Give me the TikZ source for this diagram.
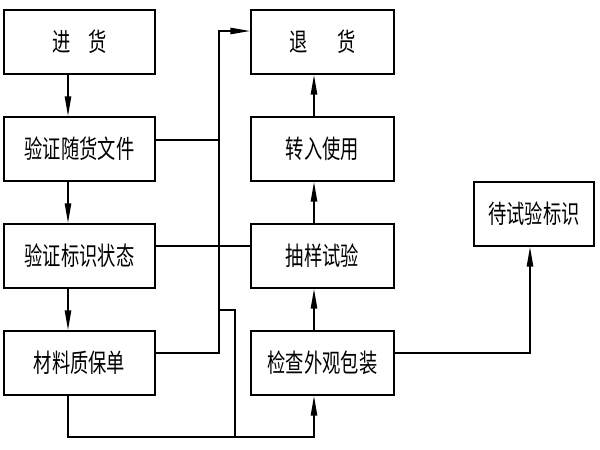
\documentclass[tikz,border=0pt]{standalone}
\usepackage{fontspec}
\usepackage{graphicx}
\setmainfont{Noto Sans CJK SC}
\usetikzlibrary{arrows.meta}
\newcommand{\tallt}[1]{\scalebox{1}[1.4]{#1}}

\begin{document}
\begin{tikzpicture}[>={Triangle[length=14pt,width=4.5pt]},line width=1.1pt,node distance=2.675cm,
  box node/.style={rectangle,draw,line width=1.3pt,minimum height=1.6cm,inner sep=0pt,font=\fontsize{13}{15}\selectfont},
  left node/.style={box node,minimum width=3.775cm},
  right node/.style={box node,minimum width=3.575cm}]
  \useasboundingbox (0,0) rectangle (15,-11.25);

  \node[left node] (1) at (1.9875,-1.05) {\tallt{进\hspace{1em}货}};
  \node[left node] (2) [below of=1] {\tallt{验证随货文件}};
  \node[left node] (3) [below of=2] {\tallt{验证标识状态}};
  \node[left node] (4) [below of=3] {\tallt{材料质保单}};

  \node[right node] (5) [node distance=6.075cm,right of=1] {\tallt{退\hspace{1.6em}货}};
  \node[right node] (6) [below of=5] {\tallt{转入使用}};
  \node[right node] (7) [below of=6] {\tallt{抽样试验}};
  \node[right node] (8) [below of=7] {\tallt{检查外观包装}};

  \node[box node,minimum width=3cm] (9) at (13.35,-5.35) {\tallt{待试验标识}};

  \coordinate (bt) at (5.475,-0.775);   % top of the bus
  \coordinate (j) at (5.475,-7.75);
  \coordinate (bot) at (5.875,-10.925);

  \draw[->] ([xshift=-0.2875cm]1.south) -- ([xshift=-0.2875cm]2.north);
  \draw[->] ([xshift=-0.2875cm]2.south) -- ([xshift=-0.2875cm]3.north);
  \draw[->] ([xshift=-0.2875cm]3.south) -- ([xshift=-0.2875cm]4.north);

  \draw[->] ([xshift=-0.2125cm]8.north) -- ([xshift=-0.2125cm]7.south);
  \draw[->] ([xshift=-0.2125cm]7.north) -- ([xshift=-0.2125cm]6.south);
  \draw[->] ([xshift=-0.2125cm]6.north) -- ([xshift=-0.2125cm]5.south);

  \draw[->] ([yshift=0.25cm]4.east) -| (bt) -- ([yshift=0.275cm]5.west);
  \draw ([yshift=0.225cm]2.east) -| (bt);
  \draw ([yshift=0.25cm]3.east) -- ([yshift=0.25cm]7.west);
  \draw (j) -| (bot);
  \draw[->] ([xshift=-0.2875cm]4.south) |- (bot) -| ([xshift=-0.2125cm]8.south);
  \draw[->] ([yshift=0.25cm]8.east) -| ([xshift=-0.1cm]9.south);

\end{tikzpicture}
\end{document}
